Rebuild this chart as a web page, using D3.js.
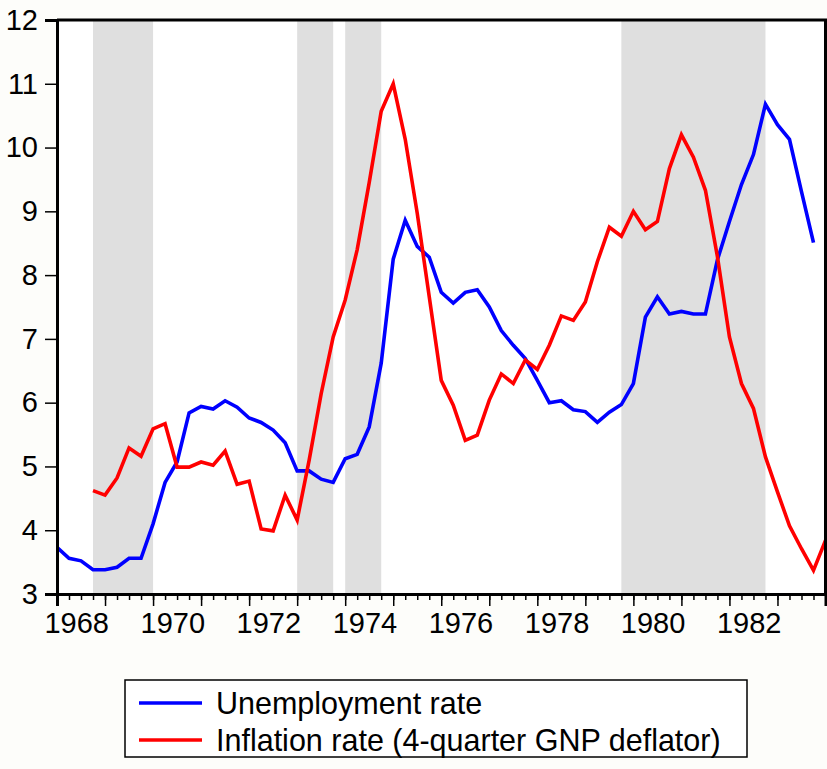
<!DOCTYPE html>
<html>
<head>
<meta charset="utf-8">
<script src="https://cdnjs.cloudflare.com/ajax/libs/d3/7.8.5/d3.min.js"></script>
<style>
  body { margin: 0; background: #fdfdfa; }
  svg { display: block; }
  text { font-family: "Liberation Sans", Arial, sans-serif; fill: #000; }
</style>
</head>
<body>
<svg id="svg" width="827" height="769"></svg>
<script>
// quarterly data, first obs 1968Q1
var startYear = 1968;
var unemployment = [3.73, 3.56, 3.52, 3.38, 3.38, 3.42, 3.56, 3.56,
  4.10, 4.75, 5.07, 5.84, 5.94, 5.90, 6.03, 5.93,
  5.76, 5.69, 5.57, 5.37, 4.93, 4.93, 4.80, 4.75,
  5.12, 5.19, 5.62, 6.62, 8.25, 8.86, 8.45, 8.28,
  7.73, 7.56, 7.73, 7.77, 7.50, 7.13, 6.90, 6.69,
  6.35, 6.00, 6.03, 5.89, 5.86, 5.69, 5.85, 5.97,
  6.30, 7.34, 7.66, 7.39, 7.43, 7.39, 7.39, 8.24,
  8.84, 9.42, 9.89, 10.68, 10.36, 10.13, 9.31, 8.51];
// inflation starts at 1968Q4
var inflationStart = 1968.75;
var inflation = [4.62, 4.55, 4.82, 5.29, 5.16, 5.59, 5.67, 4.99,
  4.99, 5.07, 5.02, 5.24, 4.72, 4.77, 4.02, 3.99,
  4.55, 4.16, 5.10, 6.14, 7.03, 7.61, 8.40, 9.45,
  10.57, 11.00, 10.13, 8.97, 7.66, 6.35, 5.96, 5.41,
  5.49, 6.04, 6.45, 6.30, 6.67, 6.52, 6.90, 7.36,
  7.29, 7.58, 8.21, 8.75, 8.61, 9.00, 8.71, 8.84,
  9.67, 10.20, 9.85, 9.33, 8.29, 7.03, 6.30, 5.91,
  5.15, 4.60, 4.07, 3.71, 3.37, 3.84];
var shadeStarts = [1968.75, 1973.0, 1974.0, 1979.75];
var shadeEnds = [1970.0, 1973.75, 1974.75, 1982.75];
var yTicks = [3, 4, 5, 6, 7, 8, 9, 10, 11, 12];
var yearLabels = [1968, 1970, 1972, 1974, 1976, 1978, 1980, 1982];
var seriesNames = ['Unemployment rate', 'Inflation rate (4-quarter GNP deflator)'];
var seriesColors = ['#0000ff', '#ff0000'];

var svg = d3.select('#svg');
var margin = { top: 20, right: 1.5, bottom: 175, left: 57 };
var innerW = 827 - margin.left - margin.right;
var innerH = 769 - margin.top - margin.bottom;

var x = d3.scaleLinear().domain([1968, 1984]).range([0, innerW]);
var y = d3.scaleLinear().domain([3, 12]).range([innerH, 0]);

var g = svg.append('g').attr('transform', 'translate(' + margin.left + ',' + margin.top + ')');

g.append('rect').attr('width', innerW).attr('height', innerH).attr('fill', '#fff');

// shaded periods
g.selectAll('rect.shade')
  .data(shadeStarts)
  .enter().append('rect')
  .attr('class', 'shade')
  .attr('x', function(d) { return x(d); })
  .attr('y', 0)
  .attr('width', function(d, i) { return x(shadeEnds[i]) - x(d); })
  .attr('height', innerH)
  .attr('fill', '#dfdfdf');

g.append('clipPath').attr('id', 'clip')
  .append('rect').attr('width', innerW).attr('height', innerH);

var line = d3.line()
  .x(function(d) { return x(d.t); })
  .y(function(d) { return y(d.v); });

var unempPts = unemployment.map(function(v, i) { return { t: startYear + i / 4, v: v }; });
var inflPts = inflation.map(function(v, i) { return { t: inflationStart + i / 4, v: v }; });

[unempPts, inflPts].forEach(function(pts, k) {
  g.append('path')
    .datum(pts)
    .attr('clip-path', 'url(#clip)')
    .attr('d', line)
    .attr('fill', 'none')
    .attr('stroke', seriesColors[k])
    .attr('stroke-width', 3.6)
    .attr('stroke-linejoin', 'miter');
});

// frame (top and right)
g.append('path')
  .attr('d', 'M0,0H' + innerW + 'V' + innerH)
  .attr('fill', 'none')
  .attr('stroke', '#000')
  .attr('stroke-width', 3);

// y axis
var yAxis = g.append('g')
  .call(d3.axisLeft(y).tickValues(yTicks).tickSize(12).tickPadding(7).tickFormat(d3.format('d')));
yAxis.select('.domain').attr('stroke-width', 3);
yAxis.selectAll('.tick line').attr('stroke-width', 1.5);
yAxis.selectAll('text').style('font-size', '29px');

// x axis: quarterly minor ticks, yearly major
var quarters = d3.range(1968, 1984.01, 0.25);
var xMinor = g.append('g')
  .attr('transform', 'translate(0,' + innerH + ')')
  .call(d3.axisBottom(x).tickValues(quarters).tickSize(6).tickFormat(''));
xMinor.selectAll('.tick line').attr('stroke-width', 1.5);

var xMajor = g.append('g')
  .attr('transform', 'translate(0,' + innerH + ')')
  .call(d3.axisBottom(x).tickValues(d3.range(1968, 1985)).tickSize(12).tickPadding(6)
    .tickFormat(function(d) { return yearLabels.indexOf(d) >= 0 ? d : ''; }));
xMajor.select('.domain').attr('stroke-width', 3);
xMajor.selectAll('.tick line').attr('stroke-width', 1.5);
xMajor.selectAll('text').style('font-size', '29px').attr('dx', x(1968.4) - x(1968));

// legend
var legend = svg.append('g').attr('transform', 'translate(125,680)');
legend.append('rect')
  .attr('width', 622).attr('height', 77)
  .attr('fill', '#fff').attr('stroke', '#000').attr('stroke-width', 1.5);
seriesNames.forEach(function(name, i) {
  var ly = 23 + i * 37;
  legend.append('line')
    .attr('x1', 14).attr('x2', 77).attr('y1', ly).attr('y2', ly)
    .attr('stroke', seriesColors[i]).attr('stroke-width', 3.6);
  legend.append('text')
    .attr('x', 91).attr('y', ly)
    .attr('dy', '0.35em')
    .style('font-size', '30.5px')
    .text(name);
});
</script>
</body>
</html>
